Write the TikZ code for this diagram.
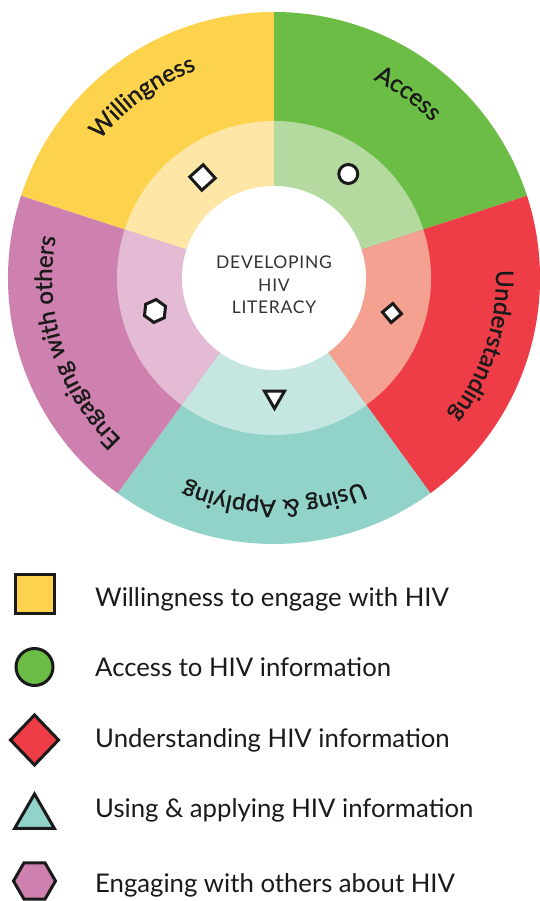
\documentclass[tikz,border=0pt]{standalone}
\usepackage{fontspec}
\setmainfont{Lato}
\newfontfamily\arcfont[FakeBold=1.2]{Lato}
\newfontfamily\hubfont[LetterSpace=4]{Lato}
\usetikzlibrary{shapes.geometric}

\definecolor{ink}{HTML}{1A1A1A}
\definecolor{hubink}{HTML}{333333}
\definecolor{wyel}{HTML}{FDD34E}
\definecolor{wyelL}{HTML}{FDE6A6}
\definecolor{wgrn}{HTML}{6CBD45}
\definecolor{wgrnL}{HTML}{B5DA9F}
\definecolor{wred}{HTML}{EE3D47}
\definecolor{wredL}{HTML}{F5A191}
\definecolor{wtea}{HTML}{92D3C9}
\definecolor{wteaL}{HTML}{C6E7E1}
\definecolor{wpur}{HTML}{CE80AF}
\definecolor{wpurL}{HTML}{E4BBD4}

\newcommand\arcsize{\arcfont\fontsize{24}{24}\selectfont}

% glyph offsets of a curved word: prefix, glyph list
% stores the centre offset of every glyph and the word's total width
\newlength\arcw
\newcommand\measurearc[2]{%
  \gdef\arcpos{0}%
  \foreach \ch [count=\i] in {#2}{%
    \settowidth\arcw{\arcsize\ch}%
    \pgfmathsetmacro\arctmp{\arcpos+\arcw/2}%
    \expandafter\xdef\csname #1c\i\endcsname{\arctmp}%
    \pgfmathsetmacro\arctmp{\arcpos+\arcw}%
    \xdef\arcpos{\arctmp}%
  }%
  \expandafter\xdef\csname #1total\endcsname{\arcpos}%
}
% set a measured word clockwise along a circle: radius, middle angle, prefix, glyph list
\newcommand\arclabel[4]{%
  \foreach \ch [count=\i] in {#4}{%
    \pgfmathsetmacro\ang{#2+(\csname #3total\endcsname/2-\csname #3c\i\endcsname)/#1*180/pi}%
    \node[arcglyph, rotate=\ang-90] (#3\i) at (\ang:#1) {\ch};%
  }%
}

\tikzset{
  ringmark/.style={draw=ink, line width=3pt, inner sep=0pt, outer sep=0pt, fill=white},
  keyshape/.style={draw=ink, line width=3pt, inner sep=0pt, outer sep=0pt},
  keytext/.style={anchor=base west, inner sep=0pt, text=ink, font=\fontsize{25.7}{30}\selectfont},
  hubtext/.style={anchor=base, inner sep=0pt, text=hubink, font=\hubfont\fontsize{17.5}{20}\selectfont},
  arcglyph/.style={anchor=base, inner sep=0pt, outer sep=0pt, text=ink, font=\arcsize}
}

\begin{document}
\measurearc{lW}{W,i,l,l,i,n,g,n,e,s,s}%
\measurearc{lA}{A,c,c,e,s,s}%
\measurearc{lU}{U,n,d,e,r,s,t,a,n,d,i,n,g}%
\measurearc{lP}{U,s,i,n,g,~,\&,~,A,p,p,l,y,i,n,g}%
\measurearc{lE}{E,n,g,a,g,i,n,g,~,w,i,t,h,~,o,t,h,e,r,s}%
\begin{tikzpicture}[x=1pt,y=1pt]
\useasboundingbox (0,0) rectangle (539,901);
\fill[white] (0,0) rectangle (539,901);
\coordinate (C) at (274,623);

% the wheel: five outer sectors, their lighter inner ring, and the white hub
\begin{scope}[shift={(C)}]
  \foreach \a/\dark in {90/wyel, 18/wgrn, -54/wred, -126/wtea, 162/wpur}{
    \fill[\dark] (0,0) -- (\a:266) arc[start angle=\a, end angle=\a+72, radius=266] -- cycle;
  }
  \foreach \a/\light in {90/wyelL, 18/wgrnL, -54/wredL, -126/wteaL, 162/wpurL}{
    \fill[\light] (0,0) -- (\a:157) arc[start angle=\a, end angle=\a+72, radius=157] -- cycle;
  }
  \fill[white] (0,0) circle[radius=92];

  % sector names
  \arclabel{222}{126}{lW}{W,i,l,l,i,n,g,n,e,s,s}
  \arclabel{222}{54}{lA}{A,c,c,e,s,s}
  \arclabel{222}{-18}{lU}{U,n,d,e,r,s,t,a,n,d,i,n,g}
  \arclabel{222}{-90}{lP}{U,s,i,n,g,~,\&,~,A,p,p,l,y,i,n,g}
  \arclabel{222}{198}{lE}{E,n,g,a,g,i,n,g,~,w,i,t,h,~,o,t,h,e,r,s}
\end{scope}

% hub title
\node[hubtext] (hub1) at (274,632) {DEVELOPING};
\node[hubtext] (hub2) at (274,609) {HIV};
\node[hubtext] (hub3) at (274,587) {LITERACY};

% markers in the inner ring
\node[ringmark, rectangle, minimum size=18pt, rotate=42] (mW) at (202.5,723.5) {};
\node[ringmark, circle, minimum size=19pt] (mA) at (348.3,727) {};
\node[ringmark, rectangle, minimum size=13.5pt, rotate=40] (mU) at (392,588) {};
\node[ringmark, regular polygon, regular polygon sides=3, minimum size=23pt, rotate=180] (mP) at (274.5,504) {};
\node[ringmark, regular polygon, regular polygon sides=6, minimum size=23pt, rotate=24] (mE) at (155,590) {};

% legend
\node[keyshape, rectangle, fill=wyel, minimum size=39pt] (kW) at (34.5,307) {};
\node[keyshape, circle, fill=wgrn, minimum size=37pt] (kA) at (34.5,234) {};
\node[keyshape, diamond, fill=wred, minimum width=48pt, minimum height=50pt] (kU) at (34.5,161) {};
\node[keyshape, regular polygon, regular polygon sides=3, fill=wtea, minimum size=46pt] (kP) at (34.5,84) {};
\node[keyshape, regular polygon, regular polygon sides=6, fill=wpur, minimum size=42pt] (kE) at (34.5,20) {};

\node[keytext] (tW) at (95,294) {Willingness to engage with HIV};
\node[keytext] (tA) at (95,224) {Access to HIV information};
\node[keytext] (tU) at (95,153) {Understanding HIV information};
\node[keytext] (tP) at (95,83) {Using \& applying HIV information};
\node[keytext] (tE) at (95,9) {Engaging with others about HIV};
\end{tikzpicture}
\end{document}
